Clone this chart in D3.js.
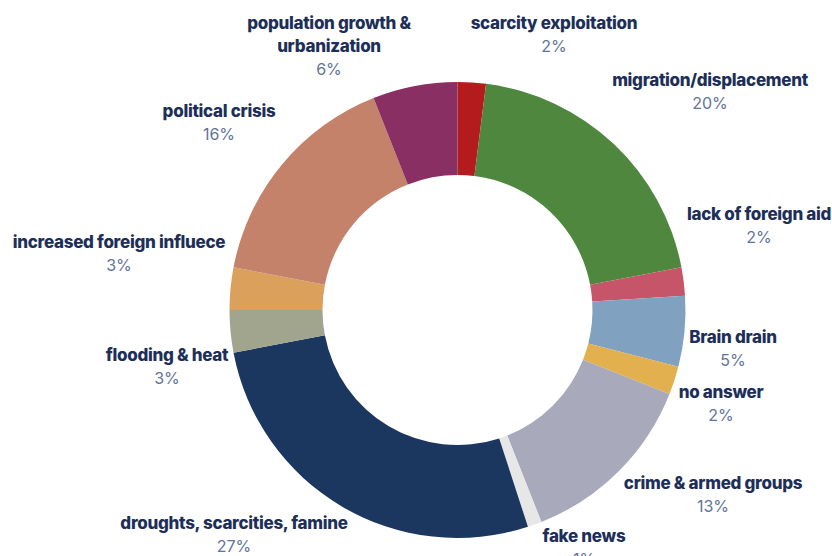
<!DOCTYPE html>
<html>
<head>
<meta charset="utf-8">
<script src="https://cdn.jsdelivr.net/npm/d3@7"></script>
<style>
  html, body { margin: 0; padding: 0; background: #ffffff; }
  svg { display: block; }
  .name { font-family: Inter, "Noto Sans", sans-serif; font-weight: 800; font-size: 17px; fill: #1d2f58; letter-spacing: -0.3px; }
  .pct { font-family: Inter, "Noto Sans", sans-serif; font-weight: 400; font-size: 16px; fill: #62739a; letter-spacing: 0px; }
</style>
</head>
<body>
<svg id="chart" width="832" height="556"></svg>
<script>
// Slices, clockwise from twelve o'clock
const categories = [
  "scarcity exploitation",
  "migration/displacement",
  "lack of foreign aid",
  "Brain drain",
  "no answer",
  "crime & armed groups",
  "fake news",
  "droughts, scarcities, famine",
  "flooding & heat",
  "increased foreign influece",
  "political crisis",
  "population growth & urbanization"
];
const shares = [2, 20, 2, 5, 2, 13, 1, 27, 3, 3, 16, 6];
const colors = [
  "#b31b1d", "#4f873f", "#c65569", "#80a1bf", "#e3b04f", "#a8aabb",
  "#e7e7e8", "#1b365f", "#a2a58d", "#dba15c", "#c4826a", "#8a2f63"
];
// Label lines (each entry: lines of the category name)
const labelLines = [
  ["scarcity exploitation"],
  ["migration/displacement"],
  ["lack of foreign aid"],
  ["Brain drain"],
  ["no answer"],
  ["crime & armed groups"],
  ["fake news"],
  ["droughts, scarcities, famine"],
  ["flooding & heat"],
  ["increased foreign influece"],
  ["political crisis"],
  ["population growth &", "urbanization"]
];
// Label anchor points (centre x, baseline of first line)
const labelX = [554, 710, 759, 733, 721, 713, 584, 234, 167, 119, 219, 329];
const labelY = [29, 86, 220, 343, 398, 489, 542, 529, 361, 248, 117, 29];

const svg = d3.select("#chart");
const cx = 457.5, cy = 310, outerR = 228, innerR = 135;

const data = categories.map((c, i) => ({ name: c, value: shares[i], color: colors[i], lines: labelLines[i], lx: labelX[i], ly: labelY[i] }));

const pie = d3.pie().value(d => d.value).sort(null).startAngle(0).endAngle(2 * Math.PI);
const arc = d3.arc().innerRadius(innerR).outerRadius(outerR);

const g = svg.append("g").attr("transform", `translate(${cx},${cy})`);
g.selectAll("path")
  .data(pie(data))
  .join("path")
  .attr("d", arc)
  .attr("fill", d => d.data.color);

const lineH = 23;
const labels = svg.append("g").selectAll("g.label")
  .data(data)
  .join("g")
  .attr("class", "label");

labels.each(function(d) {
  const sel = d3.select(this);
  d.lines.forEach((ln, k) => {
    sel.append("text")
      .attr("class", "name")
      .attr("x", d.lx)
      .attr("y", d.ly + k * lineH)
      .attr("text-anchor", "middle")
      .text(ln);
  });
  sel.append("text")
    .attr("class", "pct")
    .attr("x", d.lx)
    .attr("y", d.ly + d.lines.length * lineH)
    .attr("text-anchor", "middle")
    .text(d.value + "%");
});
</script>
</body>
</html>
